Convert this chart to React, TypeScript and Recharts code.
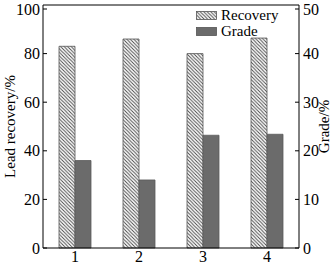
import { Bar, BarChart, Legend, ReferenceLine, XAxis, YAxis } from "recharts"

const categories = ["1", "2", "3", "4"]
const recovery = [83, 86, 80, 86.4]
const grade = [18, 14, 23.2, 23.4]
const leftTicks = [0, 20, 40, 60, 80, 100]
const rightTicks = [0, 10, 20, 30, 40, 50]

const data = categories.map((name, i) => ({ name, recovery: recovery[i], grade: grade[i] }))

const FONT = "'Liberation Serif', 'Times New Roman', serif"
const GRADE_FILL = "#6b6b6b"

const LeftTick = (props: any) => {
    const { x, y, payload } = props
    return (
        <g>
            <line x1={x + 3} x2={x + 7} y1={y} y2={y} stroke="#000" />
            <text x={x} y={y} dy="0.35em" textAnchor="end" fontSize={16} fontFamily={FONT} fill="#000">
                {payload.value}
            </text>
        </g>
    )
}

const RightTick = (props: any) => {
    const { x, y, payload } = props
    return (
        <g>
            <line x1={x - 8} x2={x - 4} y1={y} y2={y} stroke="#000" />
            <text x={x} y={y} dy="0.35em" textAnchor="start" fontSize={16} fontFamily={FONT} fill="#000">
                {payload.value}
            </text>
        </g>
    )
}

const BottomTick = (props: any) => {
    const { x, y, payload } = props
    return (
        <text x={x} y={y + 12} textAnchor="middle" fontSize={16} fontFamily={FONT} fill="#000">
            {payload.value}
        </text>
    )
}

const LegendBox = () => (
    <div style={{ fontFamily: FONT, fontSize: 15, lineHeight: "16px", color: "#000" }}>
        {[
            { label: "Recovery", fill: "url(#hatch)" },
            { label: "Grade", fill: GRADE_FILL },
        ].map((item) => (
            <div key={item.label} style={{ display: "flex", alignItems: "center", height: 16 }}>
                <svg width={21} height={9} style={{ marginRight: 4 }}>
                    <rect x={0.5} y={0.5} width={20} height={8} fill={item.fill} stroke="#555" strokeWidth={0.8} />
                </svg>
                <span>{item.label}</span>
            </div>
        ))}
    </div>
)

export default function App() {
    return (
        <div style={{ width: 332, height: 264, background: "#fff" }}>
            <style>{`body{margin:0}`}</style>
            <BarChart
                width={332}
                height={264}
                data={data}
                margin={{ top: 5, right: 0, bottom: 0, left: 0 }}
                barCategoryGap="25%"
                barGap={0}
            >
                <defs>
                    <pattern id="hatch" patternUnits="userSpaceOnUse" width={3.5} height={3.5}>
                        <rect width={3.5} height={3.5} fill="#fff" />
                        <path d="M-1,-1 L4.5,4.5 M-1,2.5 L1,4.5 M2.5,-1 L4.5,1" stroke="#444" strokeWidth={0.9} />
                    </pattern>
                </defs>
                <XAxis
                    dataKey="name"
                    height={16}
                    axisLine={{ stroke: "#000" }}
                    tickLine={false}
                    tickSize={0}
                    tick={<BottomTick />}
                />
                <YAxis
                    yAxisId="left"
                    width={43}
                    domain={[0, 100]}
                    ticks={leftTicks}
                    axisLine={{ stroke: "#000" }}
                    tickLine={false}
                    tickSize={0}
                    tickMargin={3}
                    tick={<LeftTick />}
                    label={{
                        value: "Lead recovery/%",
                        angle: -90,
                        position: "center",
                        dx: -12,
                        style: { fontFamily: FONT, fontSize: 15, fill: "#000" },
                    }}
                />
                <YAxis
                    yAxisId="right"
                    orientation="right"
                    width={33}
                    domain={[0, 50]}
                    ticks={rightTicks}
                    axisLine={{ stroke: "#000" }}
                    tickLine={false}
                    tickSize={0}
                    tickMargin={4}
                    tick={<RightTick />}
                    label={{
                        value: "Grade/%",
                        angle: -90,
                        position: "center",
                        dx: 8,
                        style: { fontFamily: FONT, fontSize: 15, fill: "#000" },
                    }}
                />
                <ReferenceLine yAxisId="left" y={100} stroke="#000" />
                <Legend
                    layout="vertical"
                    align="center"
                    verticalAlign="middle"
                    content={<LegendBox />}
                    wrapperStyle={{ top: 7, left: 196, width: 100 }}
                />
                <Bar
                    yAxisId="left"
                    dataKey="recovery"
                    name="Recovery"
                    fill="url(#hatch)"
                    stroke="#555"
                    strokeWidth={0.8}
                    isAnimationActive={false}
                />
                <Bar
                    yAxisId="right"
                    dataKey="grade"
                    name="Grade"
                    fill={GRADE_FILL}
                    stroke="#5a5a5a"
                    strokeWidth={0.8}
                    isAnimationActive={false}
                />
            </BarChart>
        </div>
    )
}
